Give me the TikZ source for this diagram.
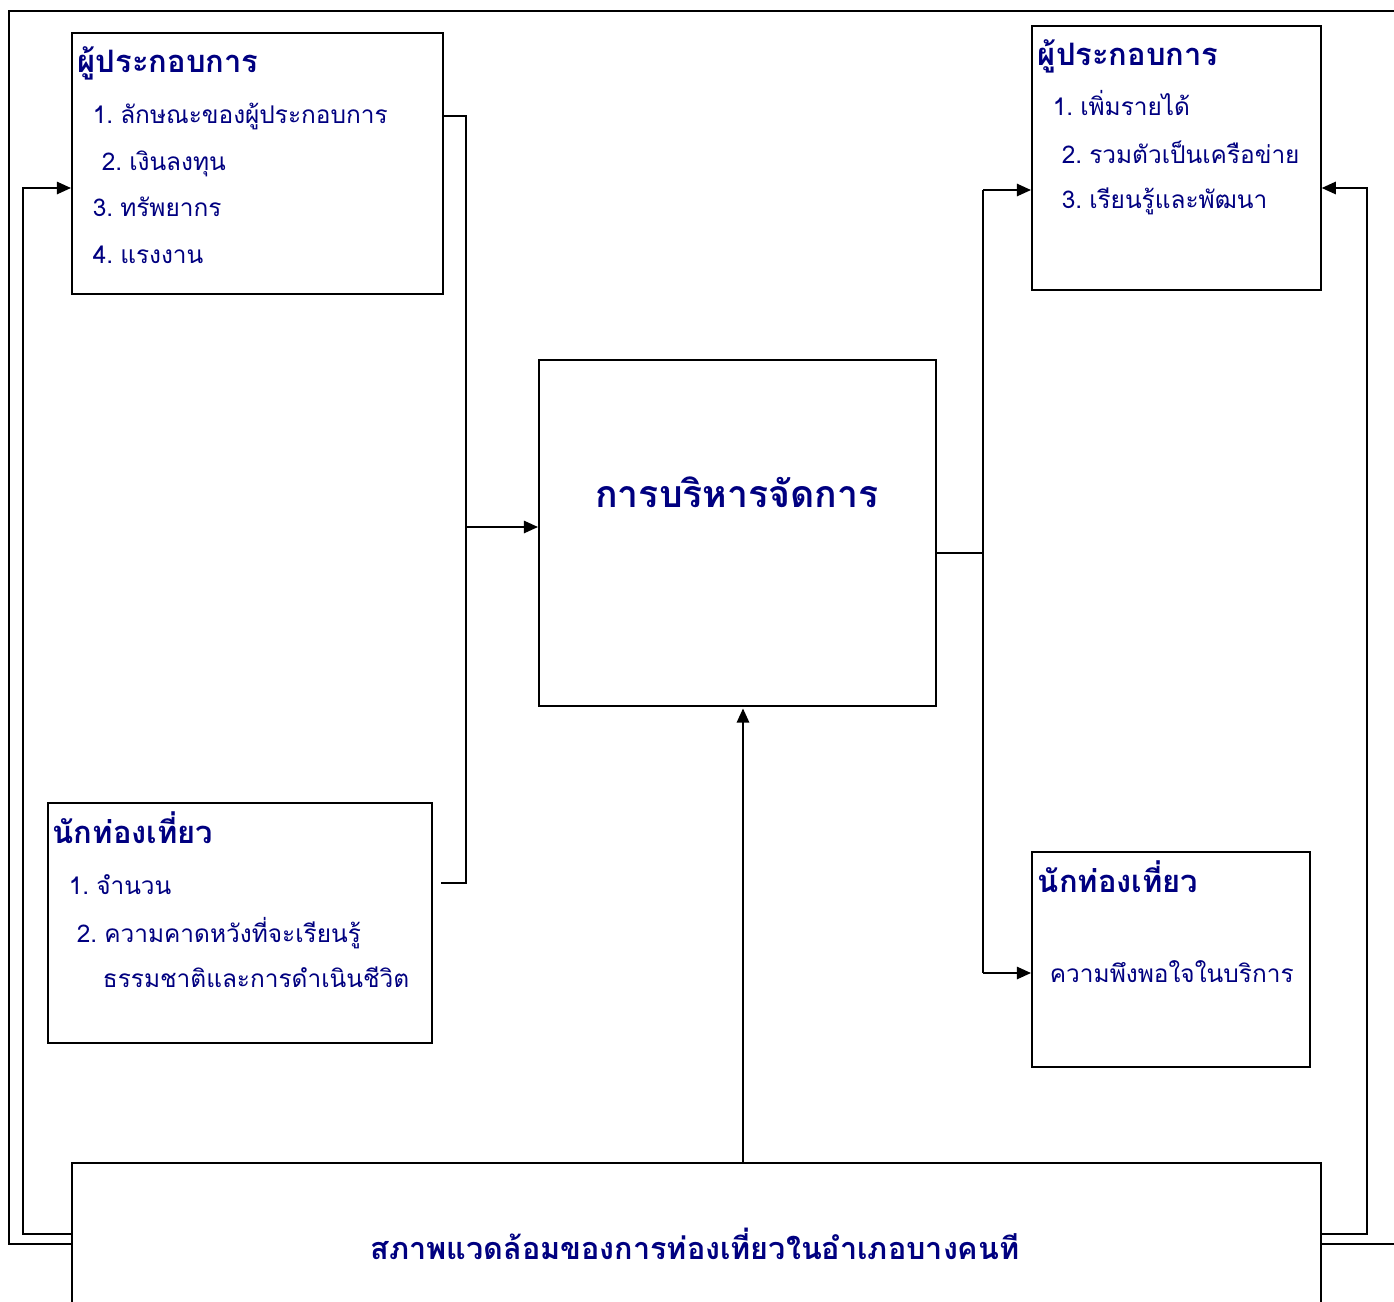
\documentclass[tikz,border=0pt]{standalone}
\usepackage{fontspec}
\setmainfont[Script=Thai]{Loma}
\usetikzlibrary{arrows.meta}
\definecolor{navytxt}{RGB}{0,0,128}

\begin{document}
\begin{tikzpicture}[x=0.02cm, y=-0.02cm, line width=1pt,
  box/.style={draw, fill=white, anchor=north west, inner sep=0pt},
  item/.style={anchor=base west, inner sep=0pt, text=navytxt, font=\fontsize{13.9}{16}\selectfont},
  head/.style={anchor=base west, inner sep=0pt, text=navytxt, font=\fontsize{17.6}{20}\selectfont\bfseries},
  arr/.style={-{Triangle[length=8pt,width=7pt]}}]

 \clip (0,0) rectangle (1394,1302);

 % outer frame
 \draw (9,11) rectangle (1420,1244);

 % boxes
 \node[box, minimum width=7.42cm, minimum height=5.22cm] (owner) at (71,32) {};
 \node[box, minimum width=7.68cm, minimum height=4.80cm] (tourist) at (47,802) {};
 \node[box, minimum width=7.94cm, minimum height=6.92cm] (mgmt) at (538,359) {};
 \node[box, minimum width=5.78cm, minimum height=5.28cm] (gain) at (1031,25) {};
 \node[box, minimum width=5.56cm, minimum height=4.30cm] (satis) at (1031,851) {};
 \node[box, minimum width=24.98cm, minimum height=3.6cm] (env) at (71,1162) {};

 % texts of the boxes
 \node[head] (owner-h) at (77,72) {ผู้ประกอบการ};
 \node[item] (owner-1) at (92,123) {1.\kern4pt ลักษณะของผู้ประกอบการ};
 \node[item] (owner-2) at (101,170) {2.\kern4pt เงินลงทุน};
 \node[item] (owner-3) at (92,216) {3.\kern4pt ทรัพยากร};
 \node[item] (owner-4) at (92,263) {4.\kern4pt แรงงาน};

 \node[head] (tourist-h) at (52,843) {นักท่องเที่ยว};
 \node[item] (tourist-1) at (68,894) {1.\kern4pt จำนวน};
 \node[item] (tourist-2) at (76,942) {2.\kern4pt ความคาดหวังที่จะเรียนรู้};
 \node[item] (tourist-3) at (102,987) {ธรรมชาติและการดำเนินชีวิต};

 \node[head] (gain-h) at (1037,65) {ผู้ประกอบการ};
 \node[item] (gain-1) at (1052,115) {1.\kern4pt เพิ่มรายได้};
 \node[item] (gain-2) at (1061,163) {2.\kern4pt รวมตัวเป็นเครือข่าย};
 \node[item] (gain-3) at (1061,208) {3.\kern4pt เรียนรู้และพัฒนา};

 \node[head] (satis-h) at (1037,892) {นักท่องเที่ยว};
 \node[item] (satis-1) at (1049,982) {ความพึงพอใจในบริการ};

 \node[head, anchor=base, font=\fontsize{21.3}{24}\selectfont\bfseries] (mgmt-t) at (737,507) {การบริหารจัดการ};
 \node[head, anchor=base, font=\fontsize{17.4}{20}\selectfont\bfseries] (env-t) at (695,1259) {สภาพแวดล้อมของการท่องเที่ยวในอำเภอบางคนที};

 % inputs into management
 \coordinate (in-top) at (466,116);
 \coordinate (in-mid) at (466,527);
 \coordinate (in-bot) at (466,883);
 \coordinate (in-end) at (441,883);
 \draw (owner.east |- in-top) -- (in-top) -- (in-bot) -- (in-end);
 \draw[arr] (in-mid) -- (mgmt.west |- in-mid);

 % outputs of management
 \coordinate (out-mid) at (983,553);
 \coordinate (out-top) at (983,190);
 \coordinate (out-bot) at (983,973);
 \draw (mgmt.east |- out-mid) -- (out-mid);
 \draw (out-top) -- (out-bot);
 \draw[arr] (out-top) -- (gain.west |- out-top);
 \draw[arr] (out-bot) -- (satis.west |- out-bot);

 % environment
 \coordinate (up) at (743,1162);
 \draw[arr] (env.north -| up) -- ([yshift=-1pt]mgmt.south -| up);

 \coordinate (lf-bot) at (23,1234);
 \coordinate (lf-top) at (23,188);
 \draw[arr] (env.west |- lf-bot) -- (lf-bot) -- (lf-top) -- (owner.west |- lf-top);

 \coordinate (rt-bot) at (1367,1234);
 \coordinate (rt-top) at (1367,188);
 \draw[arr] (env.east |- rt-bot) -- (rt-bot) -- (rt-top) -- (gain.east |- rt-top);
\end{tikzpicture}
\end{document}
